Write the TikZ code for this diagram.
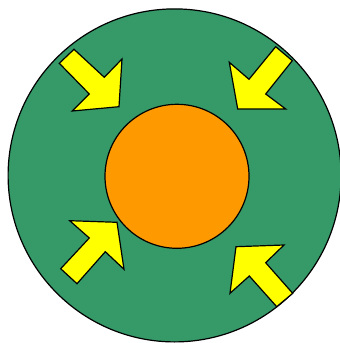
\documentclass[tikz,border=0pt]{standalone}
\begin{document}
\begin{tikzpicture}[x=1pt,y=-1pt,
  outline/.style={draw=black,line width=1.2pt,line join=miter},
  blockarrow/.style={outline,fill=arrowyellow}]
\definecolor{ringgreen}{RGB}{53,153,104}
\definecolor{coreorange}{RGB}{255,153,0}
\definecolor{arrowyellow}{RGB}{255,255,0}
\useasboundingbox (0,0) rectangle (340,343);
\begin{scope}
\clip (0,0) rectangle (340,343);
\draw[outline,fill=ringgreen] (174.6,175.4) circle (166.5);
\end{scope}
\draw[outline,fill=coreorange] (177,176.3) circle (72);
% top-left arrow
\draw[blockarrow] (59.3,63.3) -- (74,49.3) -- (104.3,77.3) -- (122,59) -- (119,106.7) -- (72.3,111) -- (89.3,94) -- cycle;
% top-right arrow
\draw[blockarrow] (275.7,46.7) -- (292.3,60.7) -- (265.7,94) -- (285.7,109) -- (237.7,109) -- (229.3,62.3) -- (249,79.3) -- cycle;
% bottom-left arrow
\draw[blockarrow] (60.7,268.7) -- (77,283.7) -- (105.3,251.7) -- (124,269.3) -- (117,222.3) -- (69.7,220.7) -- (89.3,238) -- cycle;
% bottom-right arrow
\draw[blockarrow] (292.7,293.3) -- (276.7,306.7) -- (249.3,276) -- (230,293.3) -- (236,246.7) -- (284,245) -- (265.7,262.7) -- cycle;
\end{tikzpicture}
\end{document}
